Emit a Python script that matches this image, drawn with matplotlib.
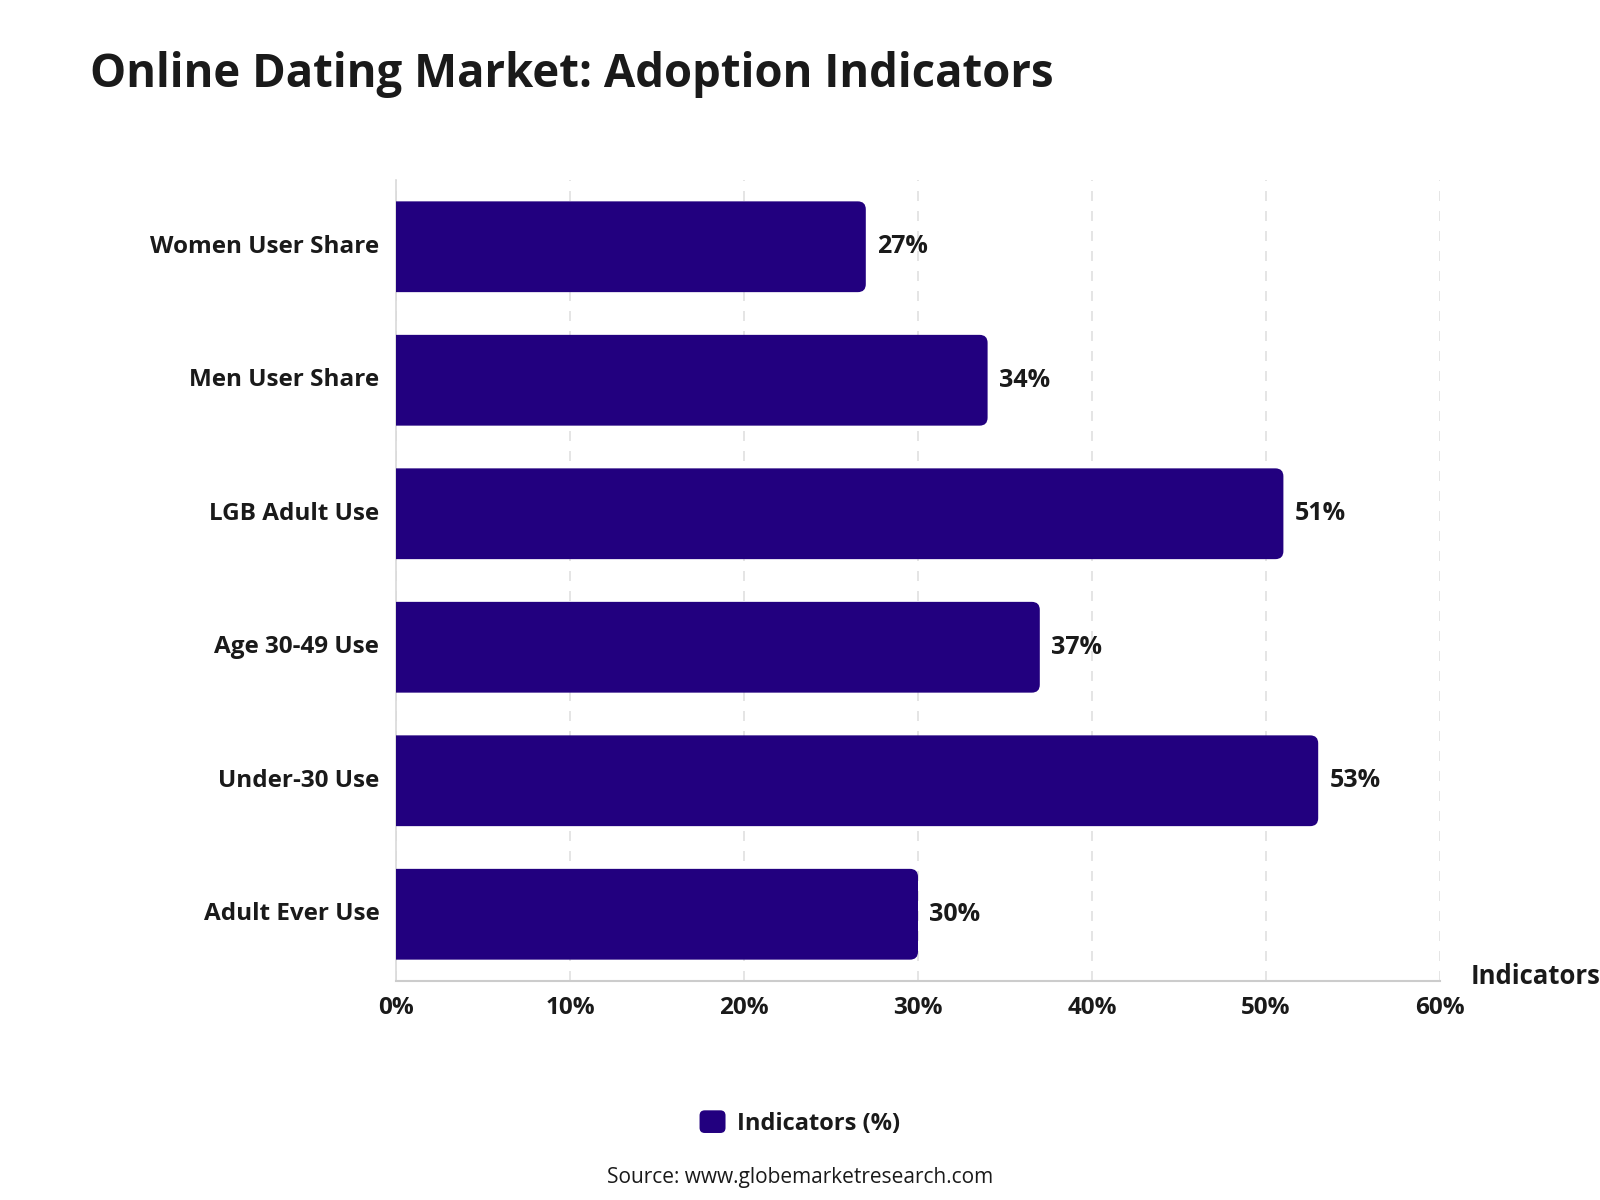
import matplotlib
matplotlib.use("Agg")
import matplotlib.pyplot as plt
from matplotlib.patches import FancyBboxPatch, Patch
from matplotlib.legend_handler import HandlerPatch
from matplotlib.ticker import FuncFormatter, MultipleLocator

categories = ["Women User Share", "Men User Share", "LGB Adult Use",
              "Age 30-49 Use", "Under-30 Use", "Adult Ever Use"]
values = [27, 34, 51, 37, 53, 30]
series_name = "Indicators (%)"
axis_label = "Indicators"
title = "Online Dating Market: Adoption Indicators"
source = "Source: www.globemarketresearch.com"

BAR = "#22007f"
TXT = "#1a1a1a"
plt.rcParams["font.family"] = ["Open Sans", "DejaVu Sans"]

fig = plt.figure(figsize=(16, 12), dpi=100)
ax = fig.add_axes([0.2475, 0.1825, 0.6525, 0.6675])

n = len(categories)
ypos = list(range(n))
bars = ax.barh(ypos, values, height=0.68, color=BAR)
ax.set_xlim(0, 60)
ax.set_ylim(n - 0.5, -0.5)

# replace bars by right-rounded versions derived from bar geometry
fig.canvas.draw()
bb = ax.get_window_extent()
x_per_px = 60 / bb.width
y_per_px = n / bb.height
r_px = 8
for rect in bars:
    x0, y0 = rect.get_x(), rect.get_y()
    w, h = rect.get_width(), rect.get_height()
    rect.set_visible(False)
    r = r_px * x_per_px
    p = FancyBboxPatch((x0 - 2 * r, y0), w + 2 * r, h,
                       boxstyle=f"round,pad=0,rounding_size={r}",
                       mutation_aspect=y_per_px / x_per_px,
                       facecolor=BAR, edgecolor="none", zorder=3)
    ax.add_patch(p)

for y, v in zip(ypos, values):
    ax.annotate(f"{v}%", (v, y), xytext=(8, 0), textcoords="offset points",
                va="center", ha="left", fontsize=18, fontweight="bold", color=TXT)

ax.set_yticks(ypos)
ax.set_yticklabels(categories, fontsize=17.5, fontweight="bold", color=TXT)
for lab in ax.get_yticklabels():
    lab.set_verticalalignment("center")
ax.xaxis.set_major_locator(MultipleLocator(10))
ax.xaxis.set_major_formatter(FuncFormatter(lambda v, p: f"{int(v)}%"))
for lab in ax.get_xticklabels():
    lab.set_fontsize(17.5)
    lab.set_fontweight("bold")
    lab.set_color(TXT)
ax.tick_params(axis="both", length=0)
ax.tick_params(axis="y", pad=12)
ax.tick_params(axis="x", pad=11)

ax.grid(axis="x", linestyle=(0, (6, 6)), color="#e0e0e0", linewidth=1.2, zorder=0)
ax.set_axisbelow(True)
for s in ["top", "right"]:
    ax.spines[s].set_visible(False)
ax.spines["left"].set_color("#d9d9d9")
ax.spines["left"].set_linewidth(1.2)
ax.spines["bottom"].set_color("#cccccc")
ax.spines["bottom"].set_linewidth(1.5)

ax.text(1.029, 0.005, axis_label, transform=ax.transAxes, ha="left", va="center",
        fontsize=18.5, fontweight="bold", color=TXT)

fig.text(90 / 1600, 1 - 75 / 1200, title, ha="left", va="center",
         fontsize=32.8, fontweight="bold", color=TXT)


class RoundHandler(HandlerPatch):
    def create_artists(self, legend, orig_handle, xdescent, ydescent,
                       width, height, fontsize, trans):
        p = FancyBboxPatch((-xdescent, -ydescent), width, height,
                           boxstyle=f"round,pad=0,rounding_size={width * 0.2}",
                           facecolor=orig_handle.get_facecolor(),
                           edgecolor="none", transform=trans)
        return [p]


handle = Patch(facecolor=BAR, edgecolor=BAR, label=series_name)
leg = fig.legend(handles=[handle], loc="center",
                 bbox_to_anchor=(0.5, 1 - 1123 / 1200), frameon=False,
                 prop={"size": 17, "weight": "bold"}, handlelength=1.1,
                 handleheight=1.1, handletextpad=0.5,
                 handler_map={Patch: RoundHandler()})
for t in leg.get_texts():
    t.set_color(TXT)

fig.text(0.5, 1 - 1177 / 1200, source, ha="center", va="center", fontsize=15,
         color=TXT)

fig.savefig("out.png", dpi=100)
